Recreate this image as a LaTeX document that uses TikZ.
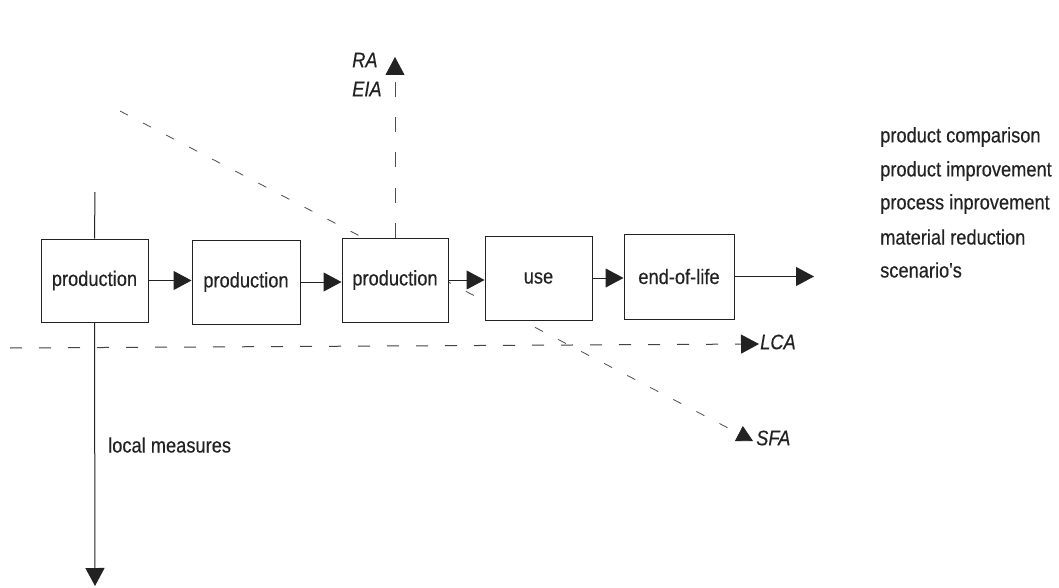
\documentclass[tikz,border=0pt]{standalone}
\usepackage{fontspec}
\setmainfont{Liberation Sans}
\newfontfamily\narrowsans[FakeStretch=0.87,FakeBold=0.3]{Liberation Sans}
\usetikzlibrary{arrows.meta}
\definecolor{ink}{HTML}{222222}
\tikzset{
  tip/.tip={Triangle[length=18pt,width=19pt,color=ink]},
  box/.style={draw=ink, fill=white, line width=1pt, minimum width=#1, minimum height=84pt, inner sep=0pt, font=\narrowsans\fontsize{21}{24}\selectfont, text=ink},
  flow/.style={draw=ink, line width=1pt, -tip},
  txt/.style={font=\narrowsans\fontsize{21}{24}\selectfont, text=ink, inner sep=0pt, anchor=west},
  itl/.style={font=\narrowsans\fontsize{21}{24}\selectfont\itshape, text=ink, inner sep=0pt, anchor=west},
  lca/.style={draw=ink!85, line width=1pt, dash pattern=on 12pt off 17pt, -tip},
  sfa/.style={draw=ink!80, line width=0.8pt, dash pattern=on 9pt off 17pt, -{Triangle[length=16pt,width=17pt,color=ink]}},
  ra/.style={draw=ink!80, line width=0.8pt, dash pattern=on 15pt off 20pt, -tip}
}
\begin{document}
\begin{tikzpicture}[x=1pt,y=-1pt]
\fill[white] (0,0) rectangle (1059,588);
\useasboundingbox (0,0) rectangle (1059,588);
% free ends
\coordinate (top1) at (95,192);
\coordinate (bot1) at (95,586);
\coordinate (out) at (814,275);
\coordinate (raend) at (395,57);
\coordinate (lcas) at (10,348);
\coordinate (lcae) at (759,344);
\coordinate (sfas) at (120,111);
\coordinate (sfae) at (753,441);
% diagonal first (passes behind boxes)
\draw[sfa] (sfas) -- (sfae);
% boxes
\node[box=107pt, minimum height=83pt] (b1) at (94.5,280.5) {production};
\node[box=108pt] (b2) at (246,282) {production};
\node[box=106pt] (b3) at (395,280) {production};
\node[box=107pt] (b4) at (538.5,278) {use};
\node[box=110pt, minimum height=85pt] (b5) at (679,276.5) {end-of-life};
% main flow
\draw[flow] (b1.east) -- (b1.east -| b2.west);
\draw[flow] (b2.east) -- (b2.east -| b3.west);
\draw[flow] (b3.east) -- (b3.east -| b4.west);
\draw[flow] (b4.east) -- (b4.east -| b5.west);
\draw[flow] (b5.east) -- (b5.east -| out);
\draw[draw=ink, line width=1pt] (top1) -- (b1.north);
\draw[flow] (b1.south) -- (bot1);
% dashed analysis arrows
\draw[ra] (b3.north) -- (raend);
\draw[lca] (lcas) -- (lcae);
% labels
\node[itl] (ra) at (352,60) {RA};
\node[itl] (eia) at (352,89) {EIA};
\node[itl] (lcal) at (760,342) {LCA};
\node[itl] (sfal) at (756,438) {SFA};
\node[txt] (lm) at (108,445) {local measures};
\node[txt] (r1) at (880,137) {product comparison};
\node[txt] (r2) at (880,171) {product improvement};
\node[txt] (r3) at (880,204) {process inprovement};
\node[txt] (r4) at (880,237) {material reduction};
\node[txt] (r5) at (880,270) {scenario's};
\end{tikzpicture}
\end{document}
